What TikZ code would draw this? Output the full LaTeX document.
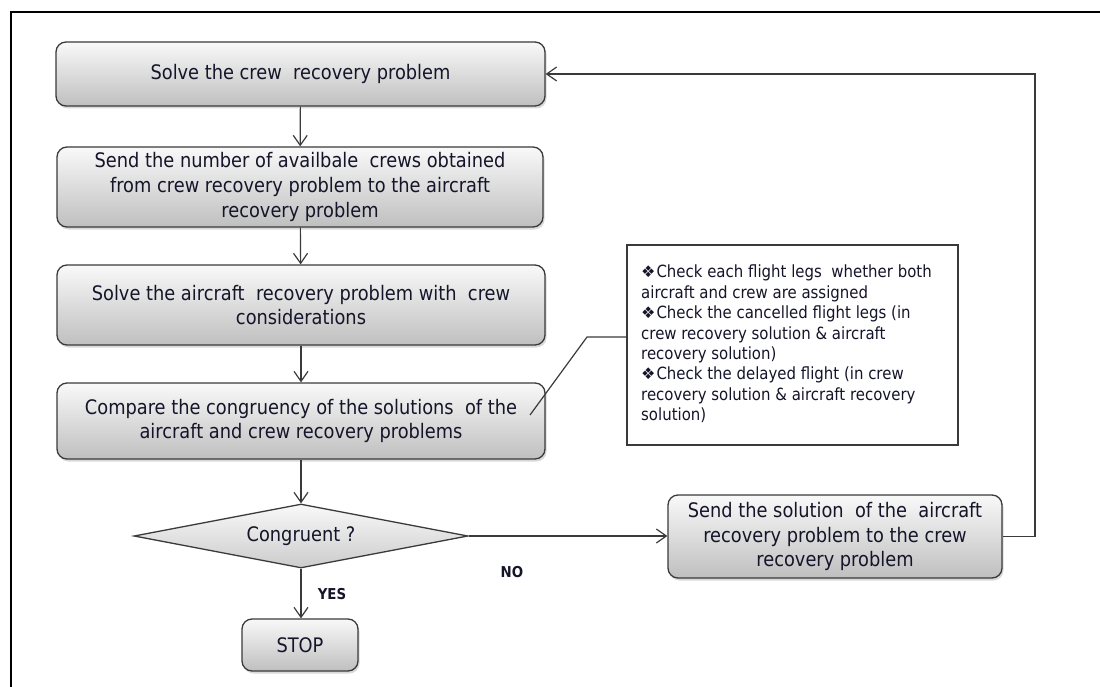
\documentclass[tikz,border=0pt]{standalone}
\usepackage{fontspec}
\setmainfont{DejaVu Sans}[FakeStretch=0.89]
\newfontfamily\symfont{DejaVu Sans}
\usetikzlibrary{arrows.meta,shapes.geometric,shadows}
\definecolor{txt}{HTML}{15152A}
\definecolor{edge}{HTML}{3A3A3A}
\newcommand{\bul}{{\symfont\fontsize{16}{16}\selectfont\raisebox{0pt}{❖}}\hspace{1pt}}
\tikzset{
  proc/.style={draw=edge, line width=1.3pt, rounded corners=10pt,
    top color=gray!5, bottom color=gray!50,
    drop shadow={shadow xshift=1.5pt, shadow yshift=-2.5pt, opacity=0.3},
    align=center, font=\fontsize{20}{24.6}\selectfont, text=txt, inner sep=0pt},
  decision/.style={diamond, aspect=5.2, draw=edge, line width=1.3pt,
    top color=gray!5, bottom color=gray!40,
    font=\fontsize{20}{24}\selectfont, text=txt, inner sep=0pt},
  notebox/.style={draw=edge, line width=1.3pt, fill=white},
  notetext/.style={align=left, font=\fontsize{16.8}{20.4}\selectfont, text=txt, inner sep=0pt},
  arr/.style={draw=edge, line width=1.2pt, -{Straight Barb[length=10pt,width=14pt,line width=1.2pt]}},
  conn/.style={draw=edge, line width=1.2pt},
  lbl/.style={font=\bfseries\fontsize{15}{17}\selectfont, text=txt}
}
\begin{document}
\begin{tikzpicture}[x=1pt,y=-1pt]
\useasboundingbox (0,0) rectangle (1100,687);
% frame
\draw[line width=2pt, black] (1100,12) -- (11,12) -- (11,687);

\node[proc, minimum width=489pt, minimum height=64pt] (b1) at (300.5,74) {Solve the crew\ \ recovery problem};
\node[proc, minimum width=486pt, minimum height=80pt] (b2) at (300,187) {Send the number of availbale\ \ crews obtained\\from crew recovery problem to the aircraft\\recovery problem};
\node[proc, minimum width=488pt, minimum height=80pt] (b3) at (301,305) {Solve the aircraft\ \ recovery problem with\ \ crew\\considerations};
\node[proc, minimum width=488pt, minimum height=76pt] (b4) at (301,421) {Compare the congruency of the solutions\ \ of the\\aircraft and crew recovery problems};
\node[decision, minimum width=334pt, minimum height=64pt] (d) at (301,536) {Congruent ?};
\node[proc, minimum width=116pt, minimum height=52pt] (stop) at (300,645) {STOP};
\node[proc, minimum width=334pt, minimum height=83pt] (r) at (835,536.5) {Send the solution\ \ of the\ \ aircraft\\recovery problem to the crew\\recovery problem};

\node[notebox, minimum width=331pt, minimum height=200pt] (note) at (792.5,345) {};
\node[notetext, anchor=north west] (notetxt) at (641,265) {\bul Check each flight legs\ \ whether both\\aircraft and crew are assigned\\\bul Check the cancelled flight legs (in\\crew recovery solution \& aircraft\\recovery solution)\\\bul Check the delayed flight (in crew\\recovery solution \& aircraft recovery\\solution)};

\coordinate (c1) at (587,337);
\coordinate (c2) at (530,415);
\coordinate (loop) at (1035,74);

\draw[arr] (b1) -- (b2);
\draw[arr] (b2) -- (b3);
\draw[arr] (b3) -- (b4);
\draw[arr] (b4.south -| d.north) -- (d.north);
\draw[arr] (d.south) -- (d.south |- stop.north);
\draw[arr] (d.east) -- (r.west |- d.east);
\draw[arr] (r.east) -| (loop) -- (b1.east);
\draw[conn] ([yshift=8pt]note.west) -- (c1) -- (c2);

\node[lbl] (yes) at (332,594) {YES};
\node[lbl] (no) at (512,572) {NO};
\end{tikzpicture}
\end{document}
